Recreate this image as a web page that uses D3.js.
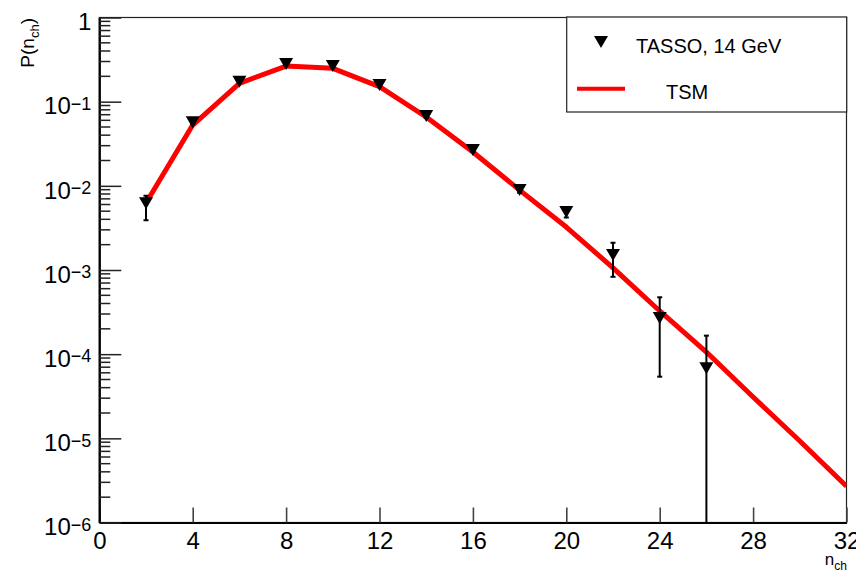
<!DOCTYPE html>
<html>
<head>
<meta charset="utf-8">
<script src="https://cdn.jsdelivr.net/npm/d3@7"></script>
<style>
body { margin: 0; background: #fff; }
text { font-family: "Liberation Sans", Arial, Helvetica, sans-serif; fill: #000; }
</style>
</head>
<body>
<div id="chart"></div>
<script>
// TASSO 14 GeV measurements
var nch = [2, 4, 6, 8, 10, 12, 14, 16, 18, 20, 22, 24, 26];
var pData = [0.0062, 0.057, 0.173, 0.28, 0.265, 0.158, 0.0675, 0.0267, 0.0089, 0.0049, 0.00151, 0.000269, 0.000068];
var errUp = [0.0014, 0.003, 0.006, 0.008, 0.008, 0.006, 0.003, 0.0015, 0.0006, 0.0007, 0.0006, 0.000205, 0.000098];
var errDown = [0.0023, 0.003, 0.006, 0.008, 0.008, 0.006, 0.003, 0.0015, 0.0006, 0.0007, 0.00068, 0.000215, 0.000098];

// TSM curve
var modelN = [2, 4, 6, 8, 10, 12, 14, 16, 18, 20, 22, 24, 26, 28, 30, 32];
var modelP = [0.00625, 0.0528, 0.165, 0.265, 0.249, 0.151, 0.0657, 0.0252, 0.0089, 0.00324, 0.00106, 0.000326, 0.000106, 0.000031, 0.0000093, 0.0000027];

// axis ticks
var xTicks = [0, 4, 8, 12, 16, 20, 24, 28, 32];
var yDecades = [0, -1, -2, -3, -4, -5, -6];

var svgWidth = 856;
var svgHeight = 572;
var margin = { top: 17.5, right: 9.5, bottom: 49.5, left: 99.3 };
var width = svgWidth - margin.left - margin.right;
var height = svgHeight - margin.top - margin.bottom;

var svg = d3.select("#chart")
    .append("svg")
    .attr("width", svgWidth)
    .attr("height", svgHeight);

var chartGroup = svg.append("g")
    .attr("transform", `translate(${margin.left}, ${margin.top})`);

var xScale = d3.scaleLinear().domain([0, 32]).range([0, width]);
var yScale = d3.scaleLog().domain([1e-6, 1]).range([height, 0]);

// frame
chartGroup.append("rect")
    .attr("width", width)
    .attr("height", height)
    .attr("fill", "none")
    .attr("stroke", "#222")
    .attr("stroke-width", 1.2);

// x axis, ticks pointing inward
var xAxis = chartGroup.append("g")
    .attr("transform", `translate(0, ${height})`)
    .call(d3.axisBottom(xScale).tickValues(xTicks).tickSizeInner(-15).tickSizeOuter(0).tickPadding(9));
xAxis.select(".domain").attr("stroke", "#000").attr("stroke-width", 2.2);
xAxis.selectAll(".tick line").attr("stroke", "#444").attr("stroke-width", 1.6);
xAxis.selectAll(".tick text")
    .style("font-size", "24px")
    .style("font-family", "'Liberation Sans', Arial, sans-serif");

// y axis with log minor ticks
var minorTicks = [];
yDecades.forEach(function(e) {
    if (e <= -1) {
        for (var m = 2; m <= 9; m++) minorTicks.push(m * Math.pow(10, e));
    }
});
var yAxis = chartGroup.append("g")
    .call(d3.axisLeft(yScale).tickValues(yDecades.map(e => Math.pow(10, e))).tickFormat("").tickSizeInner(-22).tickSizeOuter(0));
yAxis.select(".domain").attr("stroke", "#000").attr("stroke-width", 2.2);
yAxis.selectAll(".tick line").attr("stroke", "#222").attr("stroke-width", 1.5);

chartGroup.append("g").selectAll("line")
    .data(minorTicks)
    .enter()
    .append("line")
    .attr("x1", 0)
    .attr("x2", 11)
    .attr("y1", d => yScale(d))
    .attr("y2", d => yScale(d))
    .attr("stroke", "#222")
    .attr("stroke-width", 1.5);

// y tick labels as 10^k
var yLabels = chartGroup.append("g").selectAll("text")
    .data(yDecades)
    .enter()
    .append("text")
    .attr("x", -8)
    .attr("y", d => yScale(Math.pow(10, d)) + 12.8)
    .attr("text-anchor", "end")
    .style("font-size", "24px");
yLabels.each(function(d) {
    var t = d3.select(this);
    if (d === 0) {
        t.text("1");
    } else {
        t.append("tspan").text("10");
        t.append("tspan").attr("dy", -4.5).style("font-size", "18px").text("\u2212" + (-d));
    }
});

// axis titles
var yTitle = svg.append("text")
    .attr("transform", "translate(34, 18) rotate(-90)")
    .attr("text-anchor", "end")
    .style("font-size", "19px");
yTitle.append("tspan").text("P(n");
yTitle.append("tspan").attr("dy", 5).style("font-size", "13px").text("ch");
yTitle.append("tspan").attr("dy", -5).text(")");

var xTitle = svg.append("text")
    .attr("x", 847)
    .attr("y", 565)
    .attr("text-anchor", "end")
    .style("font-size", "17px");
xTitle.append("tspan").text("n");
xTitle.append("tspan").attr("dy", 5).style("font-size", "12px").text("ch");

// clip to the frame
chartGroup.append("clipPath")
    .attr("id", "plotClip")
    .append("rect")
    .attr("width", width)
    .attr("height", height);

var plotArea = chartGroup.append("g").attr("clip-path", "url(#plotClip)");

// TSM line
var line = d3.line()
    .x((d, i) => xScale(modelN[i]))
    .y(d => yScale(d));

plotArea.append("path")
    .datum(modelP)
    .attr("d", line)
    .attr("fill", "none")
    .attr("stroke", "#ff0000")
    .attr("stroke-width", 5)
    .attr("stroke-linejoin", "round");

// error bars
var errGroup = plotArea.append("g").attr("stroke", "#000").attr("stroke-width", 2);
nch.forEach(function(n, i) {
    var x = xScale(n);
    var yTop = yScale(pData[i] + errUp[i]);
    var low = pData[i] - errDown[i];
    var yBot = low > 1e-6 ? yScale(low) : height;
    errGroup.append("line")
        .attr("x1", x).attr("x2", x)
        .attr("y1", yTop).attr("y2", yBot);
    errGroup.append("line")
        .attr("x1", x - 2.5).attr("x2", x + 2.5)
        .attr("y1", yTop).attr("y2", yTop);
    if (low > 1e-6) {
        errGroup.append("line")
            .attr("x1", x - 2.5).attr("x2", x + 2.5)
            .attr("y1", yBot).attr("y2", yBot);
    }
});

// markers: downward triangles
var triangle = "M-7,-6L7,-6L0,6Z";
plotArea.selectAll(".marker")
    .data(pData)
    .enter()
    .append("path")
    .attr("class", "marker")
    .attr("d", triangle)
    .attr("transform", (d, i) => `translate(${xScale(nch[i])}, ${yScale(d)})`)
    .attr("fill", "#000");

// legend
var legend = svg.append("g");
legend.append("rect")
    .attr("x", 566.7)
    .attr("y", 17)
    .attr("width", 280)
    .attr("height", 95)
    .attr("fill", "#fff")
    .attr("stroke", "#222")
    .attr("stroke-width", 1.2);
legend.append("path")
    .attr("d", triangle)
    .attr("transform", "translate(601, 42)")
    .attr("fill", "#000");
legend.append("text")
    .attr("x", 636)
    .attr("y", 53)
    .style("font-size", "20px")
    .text("TASSO, 14 GeV");
legend.append("line")
    .attr("x1", 577)
    .attr("x2", 625)
    .attr("y1", 88.7)
    .attr("y2", 88.7)
    .attr("stroke", "#ff0000")
    .attr("stroke-width", 4);
legend.append("text")
    .attr("x", 666)
    .attr("y", 99)
    .style("font-size", "20px")
    .text("TSM");
</script>
</body>
</html>
